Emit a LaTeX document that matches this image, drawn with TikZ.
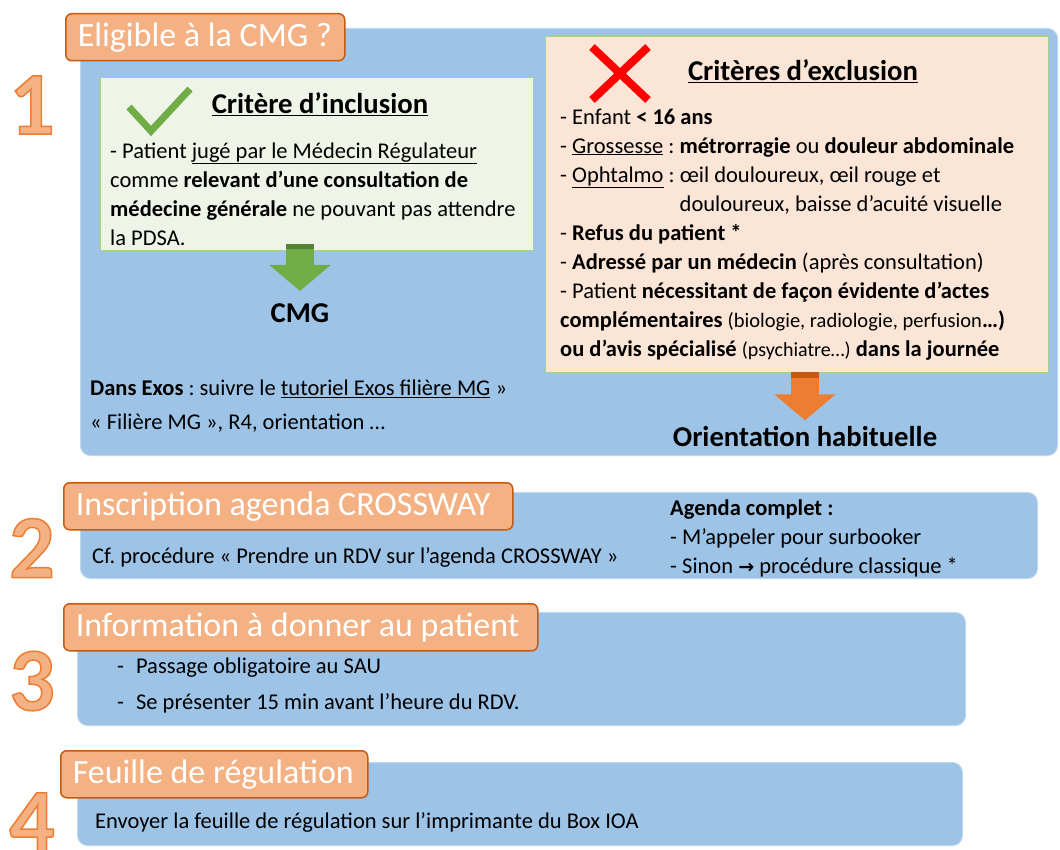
\documentclass[tikz,border=0pt]{standalone}
\usepackage{fontspec}
\setmainfont{Carlito}
\newfontfamily\arrowfont{DejaVu Sans}
\usetikzlibrary{positioning, shapes.misc, arrows.meta, calc}
\frenchspacing
\definecolor{panelblue}{RGB}{157,195,230}
\definecolor{paneledge}{RGB}{189,215,238}
\definecolor{tabfill}{RGB}{244,177,131}
\definecolor{tabedge}{RGB}{197,90,17}
\definecolor{inclfill}{RGB}{239,244,232}
\definecolor{exclfill}{RGB}{251,229,214}
\definecolor{boxedge}{RGB}{169,209,142}
\definecolor{okgreen}{RGB}{112,173,71}
\definecolor{okdark}{RGB}{84,130,53}
\definecolor{koorange}{RGB}{237,125,49}
\definecolor{kodark}{RGB}{197,90,17}
\newcommand\txtsize{\fontsize{22.5}{29}\selectfont}
\newcommand\tabsize{\fontsize{34}{36}\selectfont}
\newcommand\headsize{\fontsize{28.7}{30}\selectfont}
% outlined big number (fill + stroke of the glyph)
\newcommand\outlined[1]{\special{pdf:code q 0.929 0.490 0.192 RG 1.5 w 2 Tr}#1\special{pdf:code Q}}
\tikzset{
    panel/.style={draw=paneledge, fill=panelblue, line width=1pt, rounded corners=10pt, anchor=north west, inner sep=0pt}, % blue step boxes
    titletab/.style={draw=tabedge, fill=tabfill, line width=1.5pt, rounded corners=6pt, anchor=north west, text=white, font=\tabsize, text width=#1, align=flush left, inner xsep=12pt, minimum height=47pt}, % orange step titles
    stepnum/.style={text=tabfill, font=\fontsize{90}{90}\selectfont\bfseries}, % big step numbers
    critbox/.style={chamfered rectangle, chamfered rectangle corners=north west, draw=boxedge, line width=1pt, anchor=north west, inner sep=0pt}, % criteria boxes
    head/.style={font=\headsize\bfseries}, % bold titles
    txt/.style={anchor=north west, inner sep=0pt, align=left, font=\txtsize}, % body text
    bigarrow/.style={line width=28pt, -{Triangle[width=60pt, length=26pt]}, #1}, % block arrows
}
\begin{document}
\begin{tikzpicture}[x=1pt, y=-1pt]
\useasboundingbox (0,0) rectangle (1060,850);
% step 1
\node[panel, minimum width=977pt, minimum height=427pt] (p1) at (80,28) {};
\node[titletab=255pt] (t1) at (65,13) {Eligible à la CMG ?};
\node[stepnum] (n1) at (32,105) {\outlined{1}};

\node[critbox, fill=inclfill, minimum width=433pt, minimum height=173pt, chamfered rectangle xsep=16pt, chamfered rectangle ysep=14pt] (incl) at (100,77) {};
\draw[line width=7pt, okgreen] (129,107) -- (151,131) -- (190,89);
\node[head] (inclt) at (320,104) {\underline{Critère d’inclusion}};
\node[txt] (incltxt) at (110,142.5) {- Patient \underline{jugé par le Médecin Régulateur}\\
comme \textbf{relevant d’une consultation de}\\
\textbf{médecine générale} ne pouvant pas attendre\\
la PDSA.};
\node[head] (cmg) at (300,313) {CMG};
\draw[bigarrow=okgreen] ($(incl.south -| cmg)+(0,-7)$) -- ($(cmg.north)+(0,-9)$);
\draw[line width=28pt, okdark] ($(incl.south -| cmg)+(0,-7)$) -- ++(0,5);

\node[critbox, fill=exclfill, minimum width=503pt, minimum height=336pt, chamfered rectangle xsep=30pt, chamfered rectangle ysep=33pt] (excl) at (545,36) {};
\draw[line width=8pt, red] (592,47) -- (648,100) (648,47) -- (592,100);
\node[head] (exclt) at (803,71) {\underline{Critères d’exclusion}};
\node[txt] (excltxt) at (560,108.5) {- Enfant \textbf{< 16 ans}\\
- \underline{Grossesse} : \textbf{métrorragie} ou \textbf{douleur abdominale}\\
- \underline{Ophtalmo} : œil douloureux, œil rouge et\\
\phantom{- Ophtalmo : }douloureux, baisse d’acuité visuelle\\
- \textbf{Refus du patient *}\\
- \textbf{Adressé par un médecin} (après consultation)\\
- Patient \textbf{nécessitant de façon évidente d’actes}\\
\textbf{complémentaires} {\fontsize{20.5}{29}\selectfont(biologie, radiologie, perfusion}\textbf{…)}\\
\textbf{ou d’avis spécialisé} {\fontsize{20}{29}\selectfont(psychiatre…)} \textbf{dans la journée}};
\node[head] (orient) at (805,437) {Orientation habituelle};
\draw[bigarrow=koorange] ($(excl.south -| orient)+(0,-1)$) -- ($(orient.north)+(0,-3)$);
\draw[line width=28pt, kodark] ($(excl.south -| orient)+(0,-1)$) -- ++(0,6);

\node[txt, font=\fontsize{22.5}{34}\selectfont] (exos) at (90,379.5) {\textbf{Dans Exos} : suivre le \underline{tutoriel Exos filière MG} »\\
« Filière MG », R4, orientation …};

% step 2
\node[panel, minimum width=957pt, minimum height=86pt] (p2) at (80,492) {};
\node[titletab=425pt] (t2) at (63,482) {Inscription agenda CROSSWAY};
\node[stepnum] (n2) at (32,548) {\outlined{2}};
\node[txt] (cf) at (92,547.5) {Cf. procédure « Prendre un RDV sur l’agenda CROSSWAY »};
\node[txt] (agenda) at (670,499.5) {\textbf{Agenda complet :}\\
- M’appeler pour surbooker\\
- Sinon {\arrowfont\bfseries\fontsize{19}{29}\selectfont →} procédure classique *};

% step 3
\node[panel, minimum width=888pt, minimum height=113pt] (p3) at (77,612) {};
\node[titletab=450pt] (t3) at (63,603) {Information à donner au patient};
\node[stepnum] (n3) at (32,681) {\outlined{3}};
\node[txt, font=\fontsize{22.5}{36}\selectfont] (info) at (117,657.5) {-\hspace{12pt}Passage obligatoire au SAU\\
-\hspace{12pt}Se présenter 15 min avant l’heure du RDV.};

% step 4
\node[panel, minimum width=885pt, minimum height=83pt] (p4) at (77,762) {};
\node[titletab=283pt] (t4) at (60,750) {Feuille de régulation};
\node[stepnum] (n4) at (32,822) {\outlined{4}};
\node[txt] (feuille) at (95,812.5) {Envoyer la feuille de régulation sur l’imprimante du Box IOA};
\end{tikzpicture}
\end{document}
